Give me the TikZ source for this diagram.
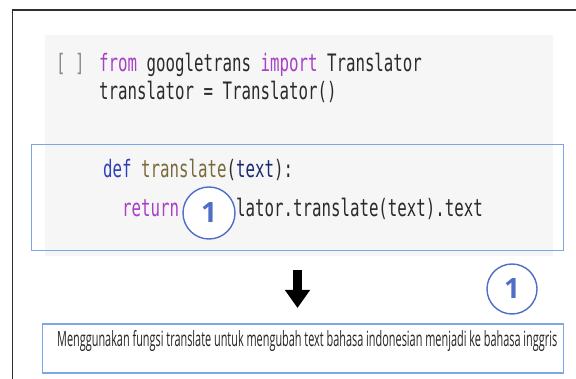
\documentclass[tikz,border=0pt]{standalone}
\usepackage{fontspec}
\usetikzlibrary{arrows.meta}
\newfontfamily\codefont[FakeStretch=0.657]{DejaVu Sans Mono}
\newfontfamily\notefont{Open Sans}
\definecolor{kw}{HTML}{A83FC6}
\definecolor{defblue}{HTML}{2F3FB8}
\definecolor{fnbrown}{HTML}{7A6A3A}
\definecolor{argnavy}{HTML}{1A2A70}
\definecolor{codetxt}{HTML}{2A2A2A}
\definecolor{brgray}{HTML}{8A8A8A}
\definecolor{boxblue}{HTML}{7BA7E6}
\definecolor{circblue}{HTML}{4F6FC6}
\definecolor{cellgray}{HTML}{F6F6F6}
\definecolor{framegray}{HTML}{2E2E2E}
\tikzset{
  codeline/.style={anchor=base west, inner sep=0pt, text=codetxt,
    font=\codefont\fontsize{24}{24}\selectfont},
  marker/.style={circle, draw=circblue, line width=1.4pt, fill=white,
    minimum size=50pt, inner sep=0pt, text=circblue,
    font=\notefont\bfseries\fontsize{28}{28}\selectfont},
  bluebox/.style={draw=boxblue, line width=1.4pt, inner sep=0pt},
}
\begin{document}
\begin{tikzpicture}[x=1pt,y=-1pt]
\useasboundingbox (0,0) rectangle (576,379);
\fill[white] (0,0) rectangle (576,379);
% outer frame (top and left edges)
\draw[framegray, line width=1.5pt] (12.7,379) -- (12.7,10) -- (576,10);
% code cell background
\fill[cellgray] (45,35) rectangle (553,256);
% highlighted region
\node[bluebox, minimum width=532pt, minimum height=106pt, anchor=north west] (hl) at (31,144) {};
% code lines
\node[codeline] (brk) at (56,72) {\textcolor{brgray}{[ ]}};
\node[codeline] (l1) at (99,72) {\textcolor{kw}{from} googletrans \textcolor{kw}{import} Translator};
\node[codeline] (l2) at (99,100) {translator = Translator()};
\node[codeline] (l3) at (103,178) {\textcolor{defblue}{def} \textcolor{fnbrown}{translate}(\textcolor{argnavy}{text}):};
\node[codeline] (l4) at (122,217) {\textcolor{kw}{return} translator.translate(text).text};
% marker over code
\node[marker, minimum size=52pt] (m1) at (209,213) {1};
% arrow
\coordinate (arrS) at (297.5,270);
\coordinate (arrE) at (297.5,308);
\draw[line width=9pt, -{Triangle[width=24pt,length=18pt]}] (arrS) -- (arrE);
% second marker
\node[marker] (m2) at (512,289) {1};
% explanation box
\node[bluebox, minimum width=521pt, minimum height=49pt, anchor=north west] (nb) at (42,323.5) {};
\node[anchor=base west, inner sep=0pt, text=black!85, font=\notefont\fontsize{21}{21}\selectfont] (nt) at (57,347)
  {\resizebox{500pt}{\height}{Menggunakan fungsi translate untuk mengubah text bahasa indonesian menjadi ke bahasa inggris}};
\end{tikzpicture}
\end{document}
